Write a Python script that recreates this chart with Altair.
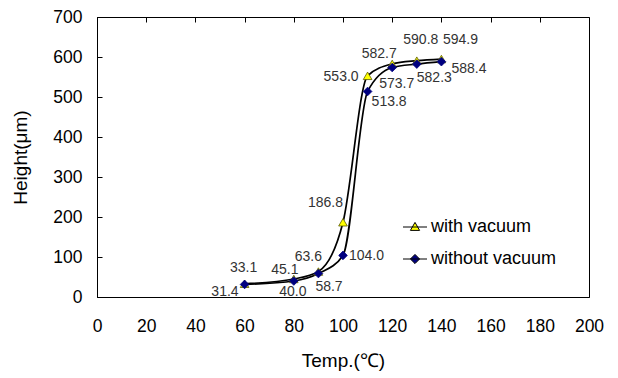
import altair as alt
import pandas as pd

# ---- data ----
temps = [60, 80, 90, 100, 110, 120, 130, 140]
with_vacuum = [33.1, 45.1, 63.6, 186.8, 553.0, 582.7, 590.8, 594.9]
without_vacuum = [31.4, 40.0, 58.7, 104.0, 513.8, 573.7, 582.3, 588.4]
series_names = ["with vacuum", "without vacuum"]
x_ticks = [0, 20, 40, 60, 80, 100, 120, 140, 160, 180, 200]
y_ticks = [0, 100, 200, 300, 400, 500, 600, 700]

# ---- label placement styles (pixel offsets dx, dy and alignment) ----
with_label_style = [(-1, -16, "center"), (-9, -9, "center"), (-10, -15, "center"),
                    (0, -19, "right"), (-9, 1, "right"), (-13, -10, "center"),
                    (4, -21, "center"), (19, -19, "center")]
without_label_style = [(-6, 8, "right"), (-1, 11, "center"), (-3, 13, "left"),
                       (6, 1, "left"), (4, 11, "left"), (-13, 16, "left"),
                       (0, 14, "left"), (10, 7, "left")]

rows = []
for t, v in zip(temps, with_vacuum):
    rows.append({"temp": t, "height": v, "series": series_names[0]})
for t, v in zip(temps, without_vacuum):
    rows.append({"temp": t, "height": v, "series": series_names[1]})
df = pd.DataFrame(rows)

FONT = "Liberation Sans"
fill_colors = ["#FFFF00", "#000080"]
stroke_colors = ["#5a5a00", "#000080"]
tri_legend = "M-3,0H3M0,-1.15L1.15,0.85L-1.15,0.85Z"
dia_legend = "M-3,0H3M-1.15,0L0,-1.15L1.15,0L0,1.15Z"

x_enc = alt.X("temp:Q", scale=alt.Scale(domain=[0, 200], nice=False),
              axis=alt.Axis(values=x_ticks, title="Temp.(℃)", labelPadding=20,
                            titlePadding=17, labelFlush=False))
y_enc = alt.Y("height:Q", scale=alt.Scale(domain=[0, 700], nice=False),
              axis=alt.Axis(values=y_ticks, title="Height(μm)", labelPadding=15,
                            titlePadding=22, labelFlush=False))

base = alt.Chart(df)

lines = base.mark_line(interpolate="monotone", color="black", strokeWidth=1.7).encode(
    x=x_enc, y=y_enc, detail="series:N")

points = base.mark_point(filled=True, size=75, strokeWidth=0.8, opacity=1).encode(
    x=x_enc, y=y_enc,
    shape=alt.Shape("series:N", scale=alt.Scale(domain=series_names, range=["triangle-up", "diamond"]), legend=None),
    fill=alt.Fill("series:N", scale=alt.Scale(domain=series_names, range=fill_colors), legend=None),
    stroke=alt.Stroke("series:N", scale=alt.Scale(domain=series_names, range=stroke_colors), legend=None),
)

legend_props = dict(orient="none", legendX=309, legendY=201, padding=0, title=None,
                    labelFont=FONT, labelFontSize=18, labelColor="black", labelOffset=7,
                    rowPadding=14, symbolSize=64, symbolStrokeWidth=1, symbolOpacity=1)

legend_layer = base.transform_filter("false").mark_point(
    filled=True, size=64, opacity=1).encode(
    fill=alt.Fill("series:N", scale=alt.Scale(domain=series_names, range=fill_colors),
                  legend=alt.Legend(**legend_props)),
    stroke=alt.Stroke("series:N", scale=alt.Scale(domain=series_names, range=["black", "black"]),
                      legend=alt.Legend(**legend_props)),
    shape=alt.Shape("series:N", scale=alt.Scale(domain=series_names, range=[tri_legend, dia_legend]),
                    legend=alt.Legend(**legend_props)),
)

text_layers = []
for name, vals, styles in [(series_names[0], with_vacuum, with_label_style),
                           (series_names[1], without_vacuum, without_label_style)]:
    for t, (dx, dy, al) in zip(temps, styles):
        text_layers.append(
            base.transform_filter((alt.datum.series == name) & (alt.datum.temp == t))
            .mark_text(dx=dx, dy=dy, align=al, baseline="middle", font=FONT,
                       fontSize=14, color="#333333")
            .encode(x=x_enc, y=y_enc, text=alt.Text("height:Q", format=".1f"))
        )

chart = alt.layer(lines, points, legend_layer, *text_layers).resolve_scale(
    fill="independent", shape="independent", stroke="independent"
).properties(
    width=492, height=280,
    background="white",
    autosize=alt.AutoSizeParams(type="none"),
    padding={"left": 89, "top": 9, "right": 21, "bottom": 80},
).configure_view(
    stroke="black", strokeWidth=1
).configure_axis(
    ticks=False, grid=True, gridDash=[5, 2000], gridColor="black", gridWidth=1, gridOpacity=1,
    domainColor="black", domainWidth=1,
    labelFont=FONT, labelFontSize=17.5, labelColor="black",
    titleFont=FONT, titleFontSize=19, titleFontWeight="normal", titleColor="black",
)

chart.save("out.html", embed_options={"renderer": "svg", "actions": False})
